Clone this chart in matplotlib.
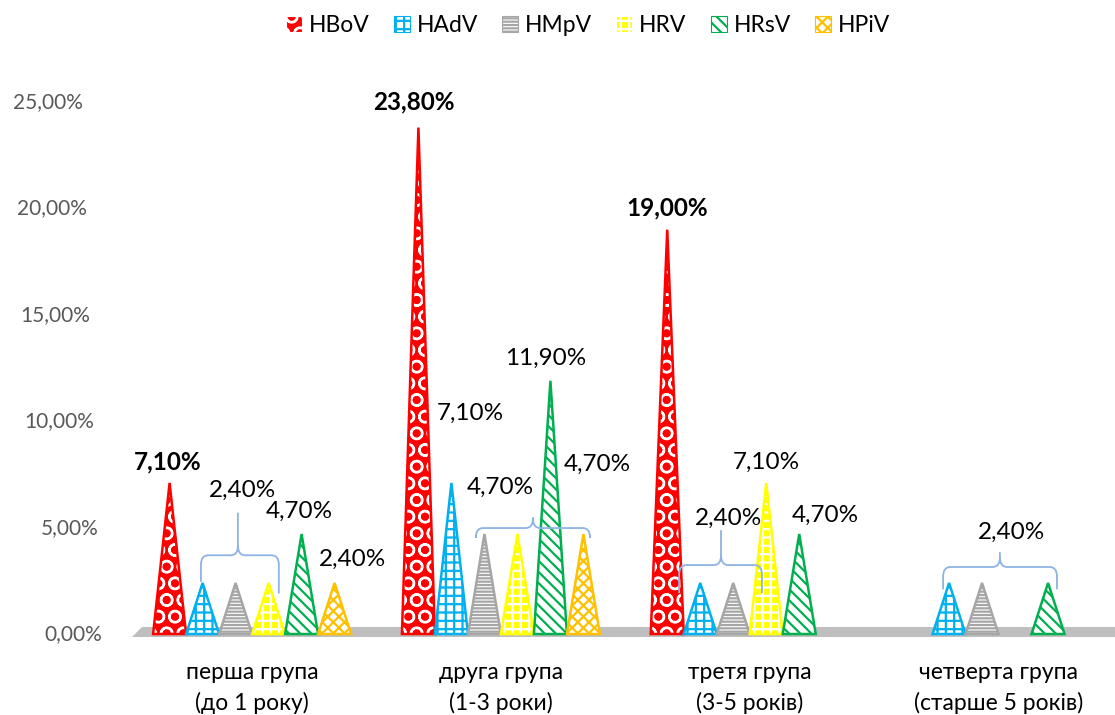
import matplotlib.pyplot as plt
import matplotlib.transforms as mtransforms
from matplotlib.patches import Patch, PathPatch, Polygon
from matplotlib.path import Path

plt.rcParams["font.family"] = ["Lato", "Noto Sans", "DejaVu Sans"]
plt.rcParams["hatch.linewidth"] = 1.6

# --- дані (частка виявлення, %) ---
GROUPS = [
    "перша група\n(до 1 року)",
    "друга група\n(1-3 роки)",
    "третя група\n(3-5 років)",
    "четверта група\n(старше 5 років)",
]
VIRUSES = ["HBoV", "HAdV", "HMpV", "HRV", "HRsV", "HPiV"]
HBOV = [7.1, 23.8, 19.0, 0.0]
HADV = [2.4, 7.1, 2.4, 2.4]
HMPV = [2.4, 4.7, 2.4, 2.4]
HRV = [2.4, 4.7, 7.1, 0.0]
HRSV = [4.7, 11.9, 4.7, 2.4]
HPIV = [2.4, 4.7, 0.0, 0.0]
Y_TICKS = [0, 5, 10, 15, 20, 25]

SERIES = [HBOV, HADV, HMPV, HRV, HRSV, HPIV]

# face, hatch colour, hatch, outline
STYLES = [
    ("#ff0000", "white", "O", "#ff0000"),
    ("white", "#00b0f0", "++", "#00b0f0"),
    ("white", "#a6a6a6", "-----", "#a6a6a6"),
    ("#ffff00", "white", "++", "#ffff00"),
    ("white", "#00b050", "\\\\\\", "#00b050"),
    ("white", "#ffc000", "xxx", "#ffc000"),
]

GROUP_STEP = 7.54
CONE_W = 1.0

# підписи над окремими конусами: (група, серія, dx, dy в пікселях, жирний)
LABELS = [
    (0, 0, -2, 21, True),
    (0, 4, -2, 23, False),
    (0, 5, 18, 24, False),
    (1, 0, -5, 26, True),
    (1, 1, 19, 70, False),
    (1, 4, -5, 22, False),
    (1, 5, 14, 70, False),
    (2, 0, 0, 22, True),
    (2, 3, 0, 21, False),
    (2, 4, 26, 19, False),
]

# фігурні дужки: (група, перша серія, остання серія, значення,
#   зсув лівого/правого краю, вершина від HBoV, y лінії, y лівого/правого кінця, y вершини, dx, dy тексту)
BRACES = [
    (0, 1, 3, 2.4, -0.05, 0.31, 2.07, 3.7, 2.45, 1.9, 5.7, 5, 22),
    (1, 2, 5, 4.7, -0.26, 0.20, 3.47, 4.98, 4.65, 4.65, 5.49, -33, 30),
    (2, 1, 2, 2.4, -0.64, 0.87, 1.63, 3.24, 1.92, 1.92, 4.88, 7, 12),
    (3, 1, 4, 2.4, -0.18, 0.27, 2.54, 3.15, 2.1, 2.1, 3.85, 12, 20),
]


def cone_x(g, i):
    return g * GROUP_STEP + (i - 2.5)


def fmt(v):
    return f"{v:.2f}".replace(".", ",") + "%"


def draw_cone(ax, x, v, style):
    face, hcol, hatch, edge = style
    pts = [(x - CONE_W / 2, 0), (x, v), (x + CONE_W / 2, 0)]
    ax.add_patch(Polygon(pts, closed=True, facecolor=face, edgecolor=hcol,
                         hatch=hatch, linewidth=0, zorder=3))
    ax.add_patch(Polygon(pts, closed=True, fill=False, edgecolor=edge,
                         linewidth=1.8, joinstyle="miter", zorder=4))


def draw_brace(ax, xl, xr, xt, y_line, yl, yr, y_tip):
    rx, ry = 0.22, 0.45
    verts = [
        (xl, yl), (xl, y_line - ry),
        (xl, y_line), (xl + rx, y_line),
        (xt - rx, y_line),
        (xt, y_line), (xt, y_line + ry),
        (xt, y_tip),
        (xt, y_line + ry),
        (xt, y_line), (xt + rx, y_line),
        (xr - rx, y_line),
        (xr, y_line), (xr, y_line - ry),
        (xr, yr),
    ]
    codes = [
        Path.MOVETO, Path.LINETO,
        Path.CURVE3, Path.CURVE3,
        Path.LINETO,
        Path.CURVE3, Path.CURVE3,
        Path.LINETO,
        Path.MOVETO,
        Path.CURVE3, Path.CURVE3,
        Path.LINETO,
        Path.CURVE3, Path.CURVE3,
        Path.LINETO,
    ]
    ax.add_patch(PathPatch(Path(verts, codes), fill=False, edgecolor="#8db4e2",
                           linewidth=1.3, zorder=5))


fig = plt.figure(figsize=(11.15, 7.15), dpi=100)
ax = fig.add_axes([130 / 1115, 0.0835, 985 / 1115, 0.7738])
x_min, x_max = -3.7, -3.7 + 985 / 33
ax.set_xlim(x_min, x_max)
ax.set_ylim(-1, 25)

# сіра "підлога"
ax.fill([x_min + 0.05, x_max, x_max, x_min + 0.35],
        [-0.15, -0.15, 0.33, 0.33], color="#bfbfbf", lw=0, zorder=1)

for i, values in enumerate(SERIES):
    for g, v in enumerate(values):
        if v > 0:
            draw_cone(ax, cone_x(g, i), v, STYLES[i])

for g, i, dx, dy, bold in LABELS:
    v = SERIES[i][g]
    ax.annotate(fmt(v), xy=(cone_x(g, i), v), xytext=(dx, dy),
                textcoords="offset pixels", ha="center", va="center",
                fontsize=17.5, fontweight="bold" if bold else "normal",
                color="black", zorder=6)

for g, i0, i1, v, dl, dr, dt, y_line, yl, yr, y_tip, tdx, tdy in BRACES:
    xl = cone_x(g, i0) + dl
    xr = cone_x(g, i1) + dr
    xt = cone_x(g, 0) + dt
    draw_brace(ax, xl, xr, xt, y_line, yl, yr, y_tip)
    ax.annotate(fmt(v), xy=(xt, y_tip), xytext=(tdx, tdy),
                textcoords="offset pixels", ha="center", va="center",
                fontsize=17.5, color="black", zorder=6)

# підписи осі Y (з нахилом як у 3D-діаграмі)
trans = mtransforms.blended_transform_factory(ax.transAxes, ax.transData)
for v in Y_TICKS:
    right_px = 102 - 19 * v / 25
    ax.text((right_px - 130) / 985, v, fmt(v), transform=trans,
            ha="right", va="center", fontsize=15, color="#595959")

ax.set_xticks([g * GROUP_STEP for g in range(len(GROUPS))])
ax.set_xticklabels(GROUPS, fontsize=16.5, linespacing=1.5)
ax.tick_params(axis="x", length=0, pad=5)
ax.set_yticks([])
for s in ax.spines.values():
    s.set_visible(False)

handles = [Patch(facecolor=st[0], edgecolor=st[1], hatch=st[2], linewidth=0.8)
           for st in STYLES]
fig.legend(handles, VIRUSES, loc="center", bbox_to_anchor=(588 / 1115, 0.964),
           ncol=6, frameon=False, fontsize=16.5, handlelength=0.7,
           handleheight=0.7, handletextpad=0.3, columnspacing=1.05)

fig.savefig("out.png", dpi=100)
